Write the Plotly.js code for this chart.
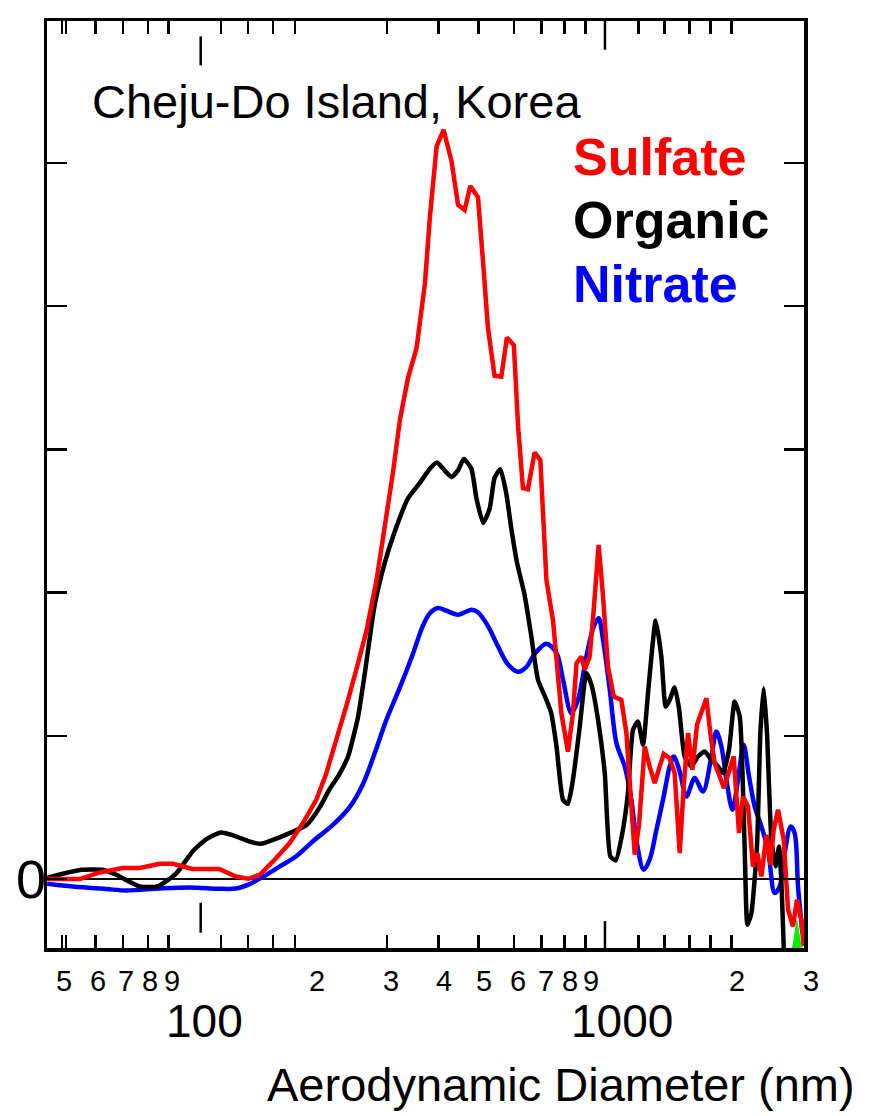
<!DOCTYPE html>
<html>
<head>
<meta charset="utf-8">
<script src="https://cdn.plot.ly/plotly-3.0.1.min.js"></script>
<style>
  html, body { margin: 0; padding: 0; background: #ffffff; }
  #chart { width: 870px; height: 1116px; }
</style>
</head>
<body>
<div id="chart"></div>
<script>
// Size-resolved aerosol composition, Cheju-Do Island (Korea)
// x: aerodynamic diameter (nm), y: mass distribution (arbitrary units)

const sulfateDiam = [45.5, 54.4, 60.7, 68.9, 75.6, 84.4, 90.6, 101, 117, 128,
  137, 146, 157, 172, 185, 199, 210, 222, 235, 248,
  262, 277, 292, 303, 315, 329, 345, 361, 371, 385,
  400, 418, 433, 449, 463, 483, 497, 510, 529, 549,
  566, 588, 602, 618, 635, 659, 680, 703, 729, 763,
  791, 813, 829, 852, 867, 891, 911, 936, 959, 985,
  1017, 1060, 1090, 1114, 1141, 1168, 1205, 1238, 1273, 1308,
  1337, 1382, 1420, 1460, 1492, 1528, 1565, 1605, 1644, 1690,
  1727, 1768, 1818, 1861, 1902, 1963, 2021, 2065, 2123, 2182,
  2235, 2285, 2349, 2401, 2444, 2503, 2582, 2644, 2717, 2777,
  2845, 2881];
const sulfate = [0, 0, 0.046, 0.077, 0.077, 0.107, 0.107, 0.070, 0.070, 0.018,
  0.002, 0.030, 0.123, 0.251, 0.391, 0.553, 0.733, 0.965, 1.215, 1.464,
  1.731, 2.088, 2.516, 2.837, 3.211, 3.496, 3.710, 4.155, 4.618, 5.117,
  5.232, 5.010, 4.708, 4.672, 4.839, 4.761, 4.298, 3.852, 3.514, 3.507,
  3.781, 3.728, 3.157, 2.729, 2.722, 2.979, 2.925, 2.088, 1.803, 1.158,
  0.890, 1.158, 1.507, 1.553, 1.461, 1.553, 1.879, 2.333, 1.972, 1.484,
  1.274, 1.251, 1.019, 0.553, 0.170, 0.379, 0.925, 0.786, 0.670, 0.786,
  0.874, 0.844, 0.740, 0.181, 0.646, 1.019, 0.763, 1.077, 1.158, 1.263,
  1.019, 0.809, 0.716, 0.635, 0.728, 0.856, 0.321, 0.576, 0.507, 0.088,
  0.181, 0.018, 0.309, 0.100, 0.344, 0.484, 0.274, -0.214, -0.331, -0.144,
  -0.284, -0.470];

const organicDiam = [45.4, 49.6, 54.9, 61.7, 66.5, 75.6, 83.4, 92.5, 101, 109,
  118, 127, 138, 147, 157, 172, 189, 203, 214, 226,
  237, 250, 260, 274, 290, 306, 329, 351, 371, 386,
  402, 418, 433, 447, 466, 479, 497, 515, 529, 546,
  564, 580, 598, 624, 647, 671, 703, 722, 743, 770,
  791, 813, 844, 875, 900, 933, 968, 998, 1028, 1066,
  1099, 1130, 1161, 1194, 1227, 1280, 1320, 1352, 1382, 1420,
  1454, 1500, 1556, 1614, 1674, 1737, 1801, 1851, 1913, 1973,
  2029, 2085, 2116, 2163, 2230, 2272, 2314, 2356, 2414, 2471,
  2517, 2550, 2582, 2611];
const organic = [0.007, 0.037, 0.065, 0.065, 0.030, -0.052, -0.052, 0.042, 0.193, 0.279,
  0.325, 0.302, 0.262, 0.246, 0.274, 0.321, 0.379, 0.502, 0.627, 0.733,
  0.858, 1.126, 1.447, 1.910, 2.213, 2.426, 2.658, 2.766, 2.865, 2.908,
  2.854, 2.808, 2.854, 2.933, 2.865, 2.658, 2.487, 2.587, 2.801, 2.862,
  2.694, 2.445, 2.213, 1.981, 1.696, 1.393, 1.251, 1.158, 0.925, 0.553,
  0.525, 0.693, 1.065, 1.438, 1.356, 1.112, 0.740, 0.158, 0.130, 0.321,
  0.600, 1.042, 1.100, 0.937, 1.298, 1.805, 1.553, 1.204, 1.251, 1.340,
  1.193, 0.856, 0.786, 0.856, 0.890, 0.833, 0.786, 0.740, 0.902, 1.239,
  1.135, 0.204, -0.319, -0.237, 0.227, 1.019, 1.333, 1.019, 0.274, 0.088,
  0.227, -0.028, -0.470, -1.0];

const nitrateDiam = [45.5, 52.4, 63.0, 70.3, 84.4, 99.5, 117, 128, 138, 149,
  163, 179, 196, 218, 239, 257, 274, 292, 315, 338,
  357, 371, 388, 406, 433, 466, 483, 510, 539, 569,
  602, 630, 659, 703, 743, 770, 806, 836, 875, 911,
  936, 959, 995, 1032, 1080, 1120, 1151, 1198, 1238, 1285,
  1337, 1382, 1413, 1460, 1514, 1585, 1658, 1737, 1785, 1835,
  1886, 1949, 2010, 2073, 2135, 2202, 2285, 2369, 2458, 2526,
  2596, 2683, 2742, 2793, 2861];
const nitrate = [-0.033, -0.052, -0.070, -0.080, -0.066, -0.059, -0.068, -0.066, -0.035, 0.018,
  0.088, 0.163, 0.267, 0.378, 0.502, 0.662, 0.876, 1.108, 1.340, 1.572,
  1.768, 1.856, 1.892, 1.874, 1.846, 1.881, 1.863, 1.768, 1.625, 1.500,
  1.447, 1.482, 1.572, 1.643, 1.577, 1.391, 1.158, 1.251, 1.553, 1.763,
  1.821, 1.670, 1.321, 0.949, 0.786, 0.553, 0.274, 0.065, 0.135, 0.344,
  0.576, 0.786, 0.856, 0.751, 0.576, 0.705, 0.611, 0.856, 1.030, 0.925,
  0.693, 0.484, 0.693, 0.937, 0.716, 0.507, 0.367, 0.204, -0.098, -0.052,
  0.181, 0.367, 0.321, -0.052, -0.377];

// small green spike at the large-size end
const chlorideDiam = [2708, 2777, 2845];
const chloride = [-0.49, -0.29, -0.49];

// axis decorations
const xTickMarks = [49.3, 50.4, 59.4, 68.9, 79.0, 88.6, 118, 137, 157, 177,
  293, 389, 485, 588, 685, 777, 872, 1166, 1344, 1542, 1730, 1941];
const xLongTick = [969];
const xFloatTick = [105.6];
const digitValues = [50, 60, 70, 80, 90, 200, 300, 400, 500, 600, 700, 800, 900, 2000, 3000];
const digitText = ['5', '6', '7', '8', '9', '2', '3', '4', '5', '6', '7', '8', '9', '2', '3'];
const decadeValues = [100, 1000];
const decadeText = ['100', '1000'];
const decadeShift = [14, 11];
const yTickVals = [0, 1, 2, 3, 4, 5];
const yTickText = ['0', '', '', '', '', ''];

const seriesNames = ['Sulfate', 'Organic', 'Nitrate'];
const seriesColors = ['#ff0000', '#000000', '#0000ff'];

const FONT = '"Liberation Sans", Arial, Helvetica, sans-serif';
const X_RANGE = [Math.log10(45.47), Math.log10(2886)];
const Y_RANGE = [-0.4815, 5.9916];

function paperX(v) {
  return (Math.log10(v) - X_RANGE[0]) / (X_RANGE[1] - X_RANGE[0]);
}

const traces = [
  {
    x: chlorideDiam, y: chloride, type: 'scatter', mode: 'lines',
    fill: 'toself', fillcolor: '#00ee00', line: { color: '#00ee00', width: 1 },
    hoverinfo: 'skip'
  },
  {
    x: nitrateDiam, y: nitrate, type: 'scatter', mode: 'lines', name: seriesNames[2],
    line: { color: seriesColors[2], width: 4.5, shape: 'spline', smoothing: 0.9 }
  },
  {
    x: organicDiam, y: organic, type: 'scatter', mode: 'lines', name: seriesNames[1],
    line: { color: seriesColors[1], width: 4.5, shape: 'spline', smoothing: 0.5 }
  },
  {
    x: sulfateDiam, y: sulfate, type: 'scatter', mode: 'lines', name: seriesNames[0],
    line: { color: seriesColors[0], width: 4.5 }
  }
];

const annotations = [];
digitValues.forEach((v, i) => {
  annotations.push({
    xref: 'paper', yref: 'paper', x: paperX(v), y: -0.0353,
    text: digitText[i], showarrow: false, xanchor: 'center', yanchor: 'middle',
    font: { family: FONT, size: 29, color: '#000' }
  });
});
decadeValues.forEach((v, i) => {
  annotations.push({
    xref: 'paper', yref: 'paper', x: paperX(v), y: -0.0785, xshift: decadeShift[i],
    text: decadeText[i], showarrow: false, xanchor: 'center', yanchor: 'middle',
    font: { family: FONT, size: 46, color: '#000' }
  });
});
// y-axis label at zero
yTickVals.forEach((v, i) => {
  if (!yTickText[i]) return;
  annotations.push({
    xref: 'paper', yref: 'y', x: 0.0013, y: v,
    text: yTickText[i], showarrow: false, xanchor: 'right', yanchor: 'middle',
    font: { family: FONT, size: 54, color: '#000' }
  });
});
annotations.push({
  xref: 'paper', yref: 'paper', x: 1.0696, y: -0.1474,
  text: 'Aerodynamic Diameter (nm)', showarrow: false, xanchor: 'right', yanchor: 'middle',
  font: { family: FONT, size: 47, color: '#000' }
});
annotations.push({
  xref: 'paper', yref: 'paper', x: 0.0564, y: 0.9134,
  text: 'Cheju-Do Island, Korea', showarrow: false, xanchor: 'left', yanchor: 'middle',
  font: { family: FONT, size: 47, color: '#000' }
});
const legendY = [0.8536, 0.7857, 0.7162];
seriesNames.forEach((name, i) => {
  annotations.push({
    xref: 'paper', yref: 'paper', x: 0.6918, y: legendY[i],
    text: '<b>' + name + '</b>', showarrow: false, xanchor: 'left', yanchor: 'middle',
    font: { family: FONT, size: 52, color: seriesColors[i] }
  });
});

// long tick marks drawn on the x scale
const shapes = [];
const tickLine = { color: '#000', width: 2.5 };
xLongTick.forEach(v => {
  shapes.push({ type: 'line', xref: 'x', yref: 'paper', x0: v, x1: v, y0: 0, y1: 0.029, line: tickLine });
  shapes.push({ type: 'line', xref: 'x', yref: 'paper', x0: v, x1: v, y0: 1, y1: 0.969, line: tickLine });
});
xFloatTick.forEach(v => {
  shapes.push({ type: 'line', xref: 'x', yref: 'paper', x0: v, x1: v, y0: 0.0165, y1: 0.0488, line: tickLine });
  shapes.push({ type: 'line', xref: 'x', yref: 'paper', x0: v, x1: v, y0: 0.9522, y1: 0.9834, line: tickLine });
});

const layout = {
  width: 870, height: 1116,
  margin: { l: 47, r: 66, t: 21, b: 168, pad: 0 },
  paper_bgcolor: '#ffffff', plot_bgcolor: '#ffffff',
  showlegend: false,
  font: { family: FONT, color: '#000' },
  xaxis: {
    type: 'log', range: X_RANGE, tickmode: 'array', tickvals: xTickMarks,
    showticklabels: false, ticks: 'inside', ticklen: 13, tickwidth: 2.5, tickcolor: '#000',
    showline: true, linewidth: 3.5, linecolor: '#000', mirror: 'ticks',
    showgrid: false, zeroline: false
  },
  yaxis: {
    range: Y_RANGE, tickmode: 'array', tickvals: yTickVals, showticklabels: false,
    ticks: 'inside', ticklen: 20, tickwidth: 2.5, tickcolor: '#000',
    showline: true, linewidth: 3.5, linecolor: '#000', mirror: 'ticks',
    showgrid: false, zeroline: true, zerolinecolor: '#000', zerolinewidth: 1.8
  },
  shapes: shapes,
  annotations: annotations
};

Plotly.newPlot('chart', traces, layout, { displayModeBar: false, staticPlot: true });
</script>
</body>
</html>
